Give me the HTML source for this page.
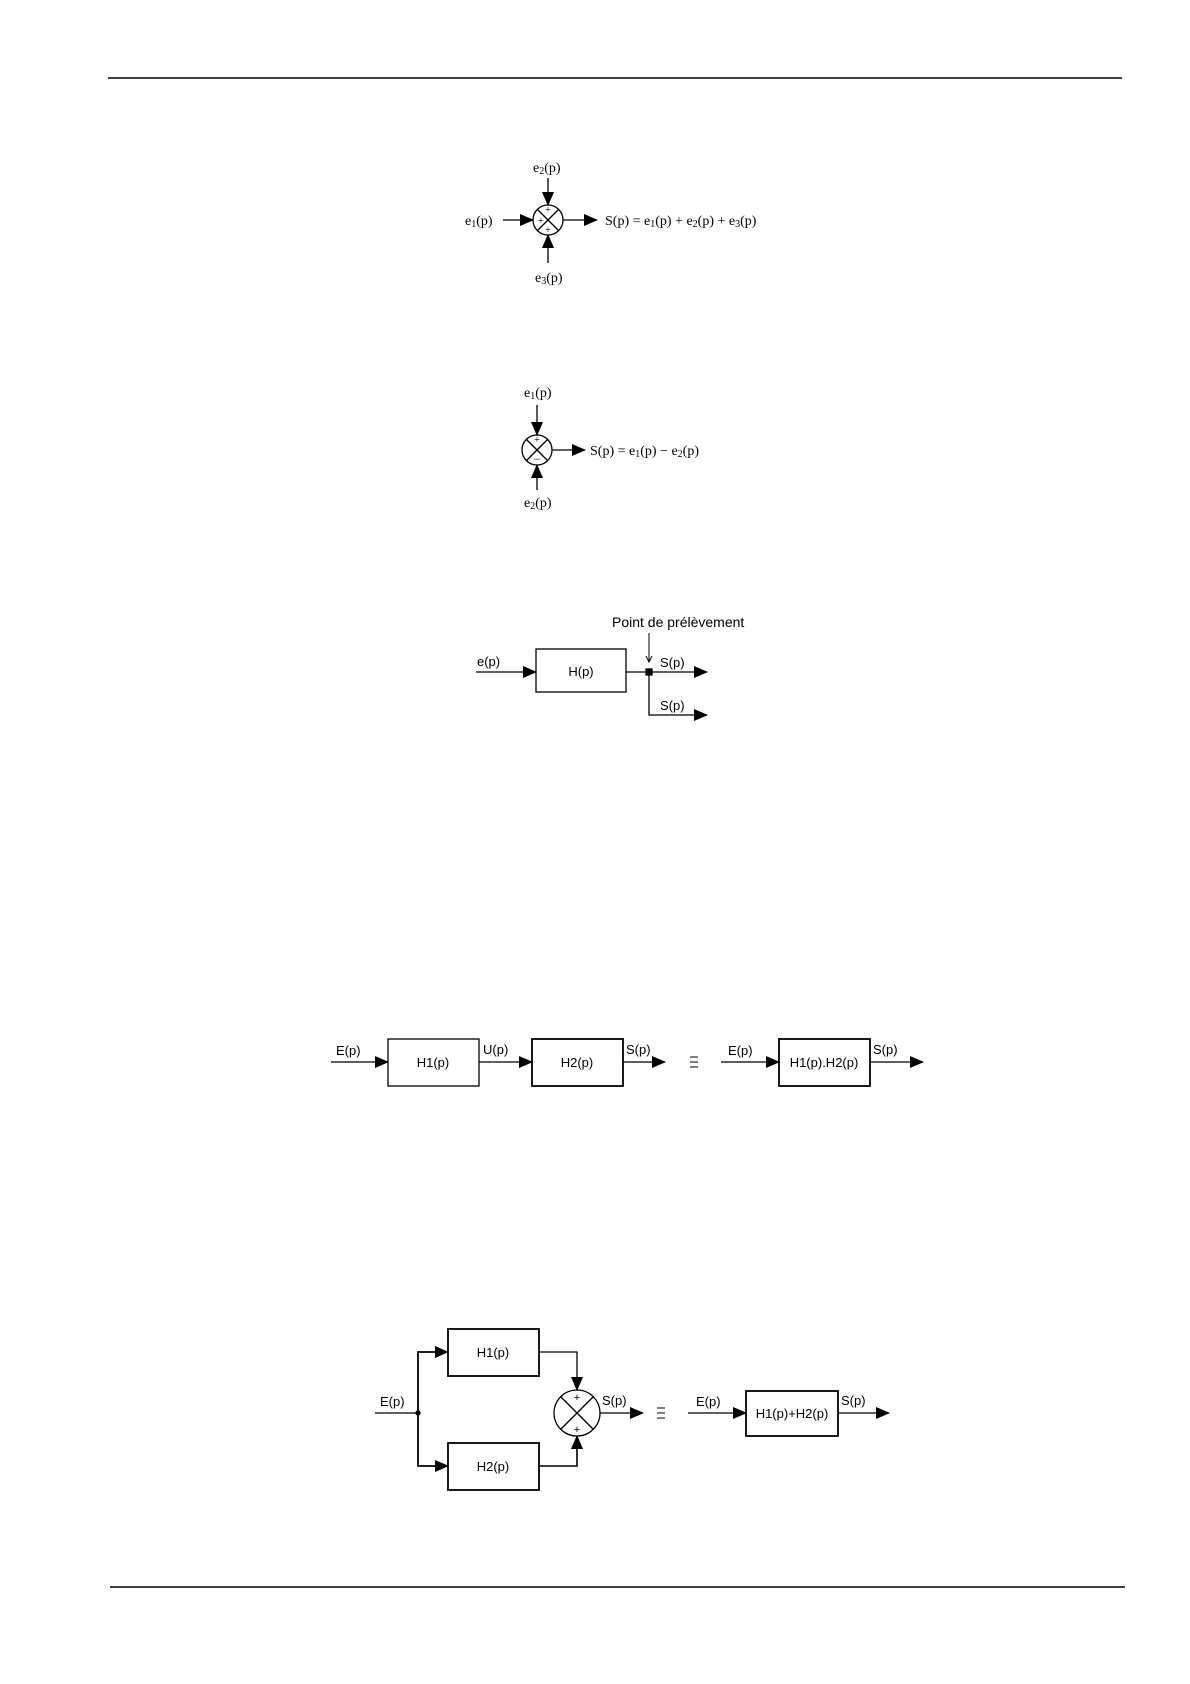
<!DOCTYPE html>
<html><head><meta charset="utf-8"><style>
html,body{margin:0;padding:0;background:#fff}
svg{display:block}
.s{font-family:"Liberation Serif",serif;font-size:14px}
.a{font-family:"Liberation Sans",sans-serif;font-size:13px}
</style></head><body>
<svg width="1190" height="1684" viewBox="0 0 1190 1684" xmlns="http://www.w3.org/2000/svg" stroke="#000" fill="none" stroke-width="1.3">
<defs><marker id="ar" markerWidth="14" markerHeight="12" refX="13" refY="6" orient="auto" markerUnits="userSpaceOnUse"><path d="M0,0 L14,6 L0,12 Z" fill="#000" stroke="none"/></marker></defs>
<line x1="108" y1="78" x2="1122" y2="78" stroke-width="1.6"/>
<line x1="110" y1="1587" x2="1125" y2="1587" stroke-width="1.6"/>

<!-- Diagram 1 -->
<circle cx="548" cy="220" r="15"/>
<line x1="537" y1="209" x2="559" y2="231"/><line x1="559" y1="209" x2="537" y2="231"/>
<line x1="503" y1="220" x2="533" y2="220" marker-end="url(#ar)"/>
<line x1="548" y1="178" x2="548" y2="205" marker-end="url(#ar)"/>
<line x1="548" y1="263" x2="548" y2="235" marker-end="url(#ar)"/>
<line x1="563" y1="220" x2="597" y2="220" marker-end="url(#ar)"/>
<g fill="#000" stroke="none" class="s">
<text x="548" y="213" font-size="10" text-anchor="middle">+</text>
<text x="541" y="224" font-size="10" text-anchor="middle">+</text>
<text x="548" y="233" font-size="10" text-anchor="middle">+</text>
<text x="465" y="225">e<tspan font-size="10" dy="2">1</tspan><tspan dy="-2">(p)</tspan></text>
<text x="533" y="172">e<tspan font-size="10" dy="2">2</tspan><tspan dy="-2">(p)</tspan></text>
<text x="535" y="282">e<tspan font-size="10" dy="2">3</tspan><tspan dy="-2">(p)</tspan></text>
<text x="605" y="225">S(p) = e<tspan font-size="10" dy="2">1</tspan><tspan dy="-2">(p) + e</tspan><tspan font-size="10" dy="2">2</tspan><tspan dy="-2">(p) + e</tspan><tspan font-size="10" dy="2">3</tspan><tspan dy="-2">(p)</tspan></text>
</g>

<!-- Diagram 2 -->
<circle cx="537" cy="450" r="15"/>
<line x1="526" y1="439" x2="548" y2="461"/><line x1="548" y1="439" x2="526" y2="461"/>
<line x1="537" y1="405" x2="537" y2="435" marker-end="url(#ar)"/>
<line x1="537" y1="490" x2="537" y2="465" marker-end="url(#ar)"/>
<line x1="552" y1="450" x2="585" y2="450" marker-end="url(#ar)"/>
<g fill="#000" stroke="none" class="s">
<text x="537" y="443" font-size="10" text-anchor="middle">+</text>
<text x="537" y="463" font-size="12" text-anchor="middle">−</text>
<text x="524" y="397">e<tspan font-size="10" dy="2">1</tspan><tspan dy="-2">(p)</tspan></text>
<text x="524" y="507">e<tspan font-size="10" dy="2">2</tspan><tspan dy="-2">(p)</tspan></text>
<text x="590" y="455">S(p) = e<tspan font-size="10" dy="2">1</tspan><tspan dy="-2">(p) − e</tspan><tspan font-size="10" dy="2">2</tspan><tspan dy="-2">(p)</tspan></text>
</g>

<!-- Diagram 3 -->
<rect x="536" y="649" width="90" height="43"/>
<line x1="476" y1="672" x2="536" y2="672" marker-end="url(#ar)"/>
<line x1="626" y1="672" x2="707" y2="672" marker-end="url(#ar)"/>
<polyline points="649,672 649,715 707,715" marker-end="url(#ar)"/>
<rect x="646" y="669" width="6" height="6" fill="#000"/>
<line x1="649" y1="633" x2="649" y2="661" stroke-width="1"/>
<path d="M646,656 L649,662 L652,656" stroke-width="1"/>
<g fill="#000" stroke="none" class="a">
<text x="612" y="627" font-size="14">Point de prélèvement</text>
<text x="477" y="666">e(p)</text>
<text x="581" y="676" text-anchor="middle">H(p)</text>
<text x="660" y="667">S(p)</text>
<text x="660" y="710">S(p)</text>
</g>

<!-- Diagram 4 -->
<g transform="translate(-4,-7)">
<rect x="392" y="1046" width="91" height="47"/>
<rect x="536" y="1046" width="91" height="47" stroke-width="1.8"/>
<rect x="783" y="1046" width="91" height="47" stroke-width="1.8"/>
<line x1="335" y1="1069" x2="392" y2="1069" marker-end="url(#ar)"/>
<line x1="483" y1="1069" x2="536" y2="1069" marker-end="url(#ar)"/>
<line x1="627" y1="1069" x2="669" y2="1069" marker-end="url(#ar)"/>
<line x1="725" y1="1069" x2="783" y2="1069" marker-end="url(#ar)"/>
<line x1="874" y1="1069" x2="927" y2="1069" marker-end="url(#ar)"/>
<g stroke-width="1"><line x1="694" y1="1064" x2="702" y2="1064"/><line x1="694" y1="1069" x2="702" y2="1069"/><line x1="694" y1="1074" x2="702" y2="1074"/></g>
<g fill="#000" stroke="none" class="a">
<text x="340" y="1062">E(p)</text>
<text x="437" y="1074" text-anchor="middle">H1(p)</text>
<text x="487" y="1061">U(p)</text>
<text x="581" y="1074" text-anchor="middle">H2(p)</text>
<text x="630" y="1061">S(p)</text>
<text x="732" y="1062">E(p)</text>
<text x="828" y="1074" text-anchor="middle">H1(p).H2(p)</text>
<text x="877" y="1061">S(p)</text>
</g>
</g>

<!-- Diagram 5 -->
<g transform="translate(-4,-10)">
<rect x="452" y="1339" width="91" height="47" stroke-width="1.8"/>
<rect x="452" y="1453" width="91" height="47" stroke-width="1.8"/>
<line x1="379" y1="1423" x2="422" y2="1423"/>
<circle cx="422" cy="1423" r="2" fill="#000"/>
<polyline points="422,1423 422,1362 452,1362" marker-end="url(#ar)" stroke-width="1.8"/>
<polyline points="422,1423 422,1476 452,1476" marker-end="url(#ar)" stroke-width="1.8"/>
<polyline points="543,1362 581,1362 581,1400" marker-end="url(#ar)"/>
<polyline points="543,1476 581,1476 581,1446" marker-end="url(#ar)" stroke-width="1.6"/>
<circle cx="581" cy="1423" r="23"/>
<line x1="565" y1="1407" x2="597" y2="1439"/><line x1="597" y1="1407" x2="565" y2="1439"/>
<line x1="604" y1="1423" x2="647" y2="1423" marker-end="url(#ar)"/>
<g stroke-width="1"><line x1="661" y1="1418" x2="669" y2="1418"/><line x1="661" y1="1423" x2="669" y2="1423"/><line x1="661" y1="1428" x2="669" y2="1428"/></g>
<rect x="750" y="1401" width="92" height="45" stroke-width="1.8"/>
<line x1="692" y1="1423" x2="750" y2="1423" marker-end="url(#ar)"/>
<line x1="842" y1="1423" x2="893" y2="1423" marker-end="url(#ar)"/>
<g fill="#000" stroke="none" class="a">
<text x="581" y="1411" font-size="11" text-anchor="middle">+</text>
<text x="581" y="1443" font-size="11" text-anchor="middle">+</text>
<text x="384" y="1416">E(p)</text>
<text x="497" y="1367" text-anchor="middle">H1(p)</text>
<text x="497" y="1481" text-anchor="middle">H2(p)</text>
<text x="606" y="1415">S(p)</text>
<text x="700" y="1416">E(p)</text>
<text x="796" y="1428" text-anchor="middle">H1(p)+H2(p)</text>
<text x="845" y="1415">S(p)</text>
</g>
</g>
</svg>
</body></html>
